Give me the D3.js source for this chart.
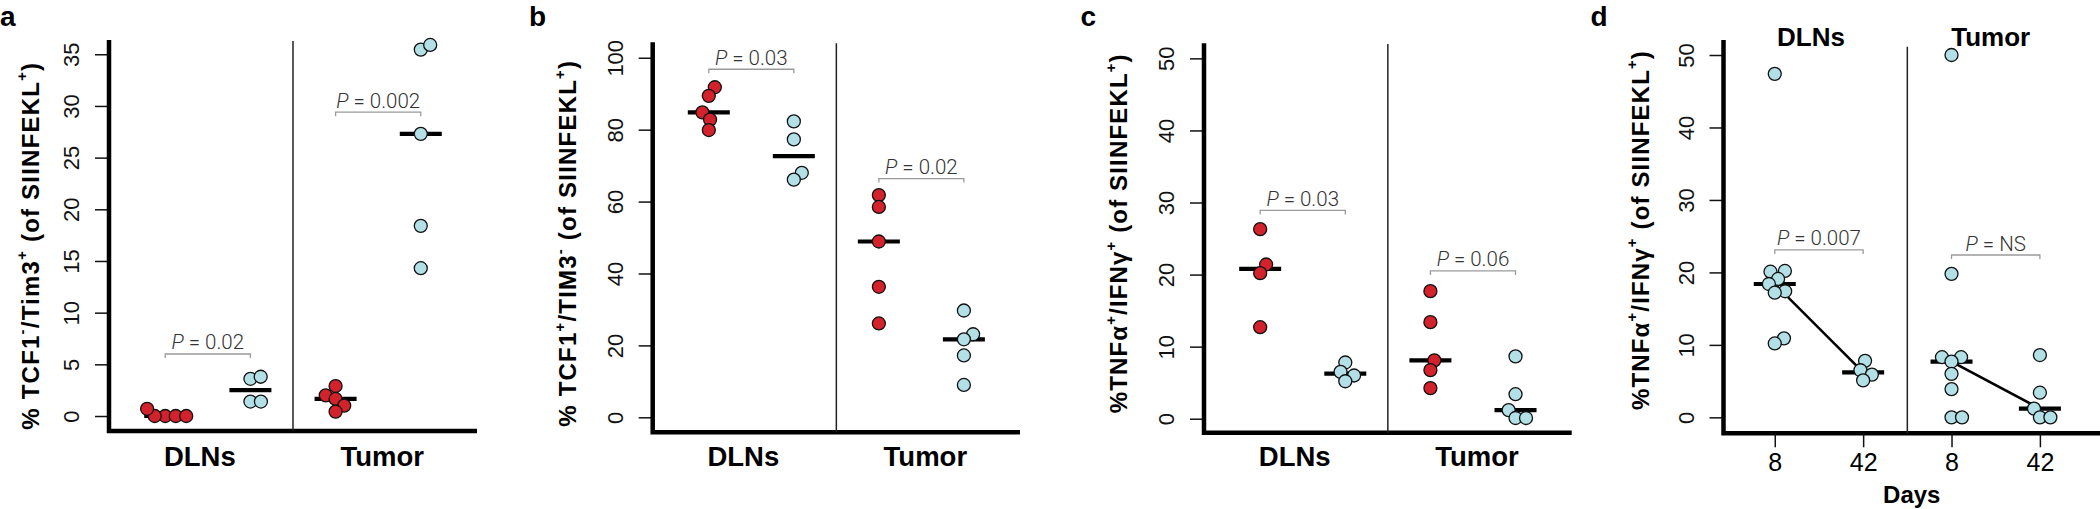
<!DOCTYPE html>
<html><head><meta charset="utf-8">
<script src="https://cdn.jsdelivr.net/npm/d3@7"></script>
<style>body{margin:0;background:#fff;overflow:hidden}</style>
</head><body>
<svg id="chart" width="2100" height="509"></svg>
<script>
// ---------------- DATA ----------------
const sites = ["DLNs", "Tumor"];
const dayLabels = ["8", "42", "8", "42"];

// panel a : % TCF1-/Tim3+ (of SIINFEKL+)
const aTicks = [0, 5, 10, 15, 20, 25, 30, 35];
const aDLNsRed = [0, 0, 0, 0, 0.7];
const aDLNsBlue = [3.6, 3.8, 1.4, 1.4];
const aTumorRed = [2.9, 2.0, 1.65, 1.0, 0.42];
const aTumorBlue = [35.45, 35.9, 27.3, 18.4, 14.3];
const aPvalues = ["0.02", "0.002"];
const aBracketY = [6.0, 29.4];

// panel b : % TCF1+/TIM3- (of SIINFEKL+)
const bTicks = [0, 20, 40, 60, 80, 100];
const bDLNsRed = [91.8, 89.4, 84.8, 82.8, 79.9];
const bDLNsBlue = [82.3, 77.3, 68.0, 66.1];
const bTumorRed = [61.8, 58.5, 48.9, 36.3, 26.1];
const bTumorBlue = [29.7, 23.1, 21.7, 17.2, 9.0];
const bPvalues = ["0.03", "0.02"];
const bBracketY = [96.8, 66.4];

// panel c : %TNFa+/IFNg+ (of SIINFEKL+)
const cTicks = [0, 10, 20, 30, 40, 50];
const cDLNsRed = [26.3, 21.4, 20.2, 12.7];
const cDLNsBlue = [7.8, 6.5, 6.0, 5.2];
const cTumorRed = [17.7, 13.4, 8.1, 6.75, 4.25];
const cTumorBlue = [8.65, 3.4, 1.2, 0.1, 0.1];
const cPvalues = ["0.03", "0.06"];
const cBracketY = [28.9, 20.5];

// panel d : %TNFa+/IFNg+ (of SIINFEKL+) by day
const dTicks = [0, 10, 20, 30, 40, 50];
const dDLNsDay8 = [47.4, 20.2, 20.1, 19.1, 18.4, 17.4, 17.2, 10.9, 10.2];
const dDLNsDay42 = [7.8, 6.5, 5.9, 5.1];
const dTumorDay8 = [50.0, 19.8, 8.3, 8.3, 7.7, 6.0, 3.9, 0, 0];
const dTumorDay42 = [8.6, 3.4, 1.2, 0, 0];
const dPvalues = ["0.007", "NS"];
const dBracketY = [23.1, 22.4];

// ---------------- STYLE ----------------
const RED = "#d3222b", BLUE = "#b2e0e6";
const FONT = "'Liberation Sans', Arial, Helvetica, sans-serif";
const LIGHT = "Roboto, 'Liberation Sans', Arial, sans-serif";

const titleA = [["% TCF1",0],["-",1],["/Tim3",0],["+",1],[" (of SIINFEKL",0],["+",1],[")",0]];
const titleB = [["% TCF1",0],["+",1],["/TIM3",0],["-",1],[" (of SIINFEKL",0],["+",1],[")",0]];
const titleC = [["%TNFα",0],["+",1],["/IFNγ",0],["+",1],[" (of SIINFEKL",0],["+",1],[")",0]];

const panels = [
  {letter:"a", letterX:0, axisX:109, rightX:477, top:40, bottom:431, divTop:41,
   xDomain:[0.34,4.66], yDomain:[-1.45,36.38], ticks:aTicks,
   title:titleA, titleX:30, titleY:245.7, titleLen:368,
   groups:[[aDLNsRed,RED],[aDLNsBlue,BLUE],[aTumorRed,RED],[aTumorBlue,BLUE]],
   pvals:aPvalues, brY:aBracketY, days:false},
  {letter:"b", letterX:529, axisX:652.7, rightX:1020, top:42.3, bottom:432.3, divTop:43.3,
   xDomain:[0.34,4.66], yDomain:[-4.17,104.3], ticks:bTicks,
   title:titleB, titleX:567.3, titleY:243.3, titleLen:367,
   groups:[[bDLNsRed,RED],[bDLNsBlue,BLUE],[bTumorRed,RED],[bTumorBlue,BLUE]],
   pvals:bPvalues, brY:bBracketY, days:false},
  {letter:"c", letterX:1080.5, axisX:1204, rightX:1571.7, top:43.3, bottom:432.7, divTop:44,
   xDomain:[0.34,4.66], yDomain:[-1.94,52.09], ticks:cTicks,
   title:titleC, titleX:1118.3, titleY:233.3, titleLen:360,
   groups:[[cDLNsRed,RED],[cDLNsBlue,BLUE],[cTumorRed,RED],[cTumorBlue,BLUE]],
   pvals:cPvalues, brY:cBracketY, days:false},
  {letter:"d", letterX:1590.5, axisX:1723.5, rightX:2100, top:40, bottom:433.3, divTop:46.7,
   xDomain:[0.42,4.68], yDomain:[-2.2,52.07], ticks:dTicks,
   title:titleC, titleX:1640, titleY:230, titleLen:360,
   groups:[[dDLNsDay8,BLUE],[dDLNsDay42,BLUE],[dTumorDay8,BLUE],[dTumorDay42,BLUE]],
   pvals:dPvalues, brY:dBracketY, days:true}
];

const svg = d3.select("#chart");
const R = 6.5, SW = 10.5;

function swarm(vals, y, d) {
  const order = vals.map((v, i) => i).sort((i, j) => vals[i] - vals[j]);
  const placed = [], out = new Array(vals.length);
  order.forEach(i => {
    const yy = y(vals[i]);
    const cands = [0];
    placed.forEach(p => {
      const dy = Math.abs(p.y - yy);
      if (dy < d) { const dx = Math.sqrt(d * d - dy * dy); cands.push(p.x + dx, p.x - dx); }
    });
    const ok = cands.filter(c => placed.every(p => (p.x - c) ** 2 + (p.y - yy) ** 2 >= d * d - 1e-6));
    ok.sort((a, b) => (Math.abs(Math.abs(a) - Math.abs(b)) < 1e-6 ? b - a : Math.abs(a) - Math.abs(b)));
    placed.push({x: ok[0], y: yy});
    out[i] = ok[0];
  });
  return out;
}

panels.forEach(P => {
  const g = svg.append("g");
  const x = d3.scaleLinear().domain(P.xDomain).range([P.axisX, P.rightX]);
  const y = d3.scaleLinear().domain(P.yDomain).range([P.bottom, P.top]);

  // panel letter
  g.append("text").attr("x", P.letterX).attr("y", 26).text(P.letter)
    .attr("font-family", FONT).attr("font-weight", "bold").attr("font-size", 28).attr("fill", "#000");

  // y axis ticks + labels via d3.axisLeft
  const ax = g.append("g").attr("transform", `translate(${P.axisX},0)`)
    .call(d3.axisLeft(y).tickValues(P.ticks).tickSize(14).tickPadding(0));
  ax.select(".domain").remove();
  ax.selectAll(".tick line").attr("stroke", "#111").attr("stroke-width", 1.5);
  ax.selectAll(".tick text")
    .attr("font-family", FONT).attr("font-size", 22).attr("fill", "#111")
    .attr("text-anchor", "middle").attr("dy", null).attr("x", null)
    .attr("transform", "translate(-37.5,0) rotate(-90)").attr("dy", "0.36em");

  // y axis title
  const t = g.append("text")
    .attr("transform", `translate(${P.titleX},${P.titleY}) rotate(-90)`)
    .attr("text-anchor", "middle").attr("dy", "0.36em")
    .attr("font-family", FONT).attr("font-weight", "bold").attr("font-size", 24).attr("fill", "#000");
  P.title.forEach(([s, sup], i) => {
    const ts = t.append("tspan").text(s);
    if (sup) ts.attr("font-size", "0.62em").attr("dy", "-0.75em");
    else if (i > 0 && P.title[i - 1][1]) ts.attr("dy", "0.465em");
  });
  const len = t.node().getComputedTextLength();
  const nch = P.title.map(d => d[0]).join("").length;
  if (len > P.titleLen) t.attr("font-size", 24 * P.titleLen / len);
  else t.attr("letter-spacing", (P.titleLen - len) / nch);

  // axis frame (L shape)
  g.append("path")
    .attr("d", `M${P.axisX},${P.top} L${P.axisX},${P.bottom} L${P.rightX},${P.bottom}`)
    .attr("fill", "none").attr("stroke", "#000").attr("stroke-width", 4.5).attr("stroke-linejoin", "miter");
  // divider between sites
  g.append("line").attr("x1", x(2.5)).attr("x2", x(2.5)).attr("y1", P.divTop).attr("y2", P.bottom)
    .attr("stroke", "#222").attr("stroke-width", 1.5);

  // site labels
  if (!P.days) {
    g.selectAll(".site").data(sites).enter().append("text")
      .attr("x", (d, i) => x(1.5 + 2 * i) + (i === 0 ? -8 : 4)).attr("y", 466)
      .attr("text-anchor", "middle").text(d => d)
      .attr("font-family", FONT).attr("font-weight", "bold").attr("font-size", 27.5).attr("fill", "#000");
  } else {
    g.selectAll(".site").data(sites).enter().append("text")
      .attr("x", (d, i) => x(1.5 + 2 * i) + (i === 0 ? -8 : -5)).attr("y", 46)
      .attr("text-anchor", "middle").text(d => d)
      .attr("font-family", FONT).attr("font-weight", "bold").attr("font-size", 26).attr("fill", "#000");
    const xa = g.append("g").attr("transform", `translate(0,${P.bottom})`)
      .call(d3.axisBottom(x).tickValues([1, 2, 3, 4]).tickFormat((d, i) => dayLabels[i]).tickSize(14).tickPadding(6));
    xa.select(".domain").remove();
    xa.selectAll(".tick line").attr("stroke", "#111").attr("stroke-width", 1.5);
    xa.selectAll(".tick text").attr("font-family", FONT).attr("font-size", 25).attr("fill", "#000");
    g.append("text").attr("x", (P.axisX + P.rightX) / 2).attr("y", 503).attr("text-anchor", "middle")
      .text("Days").attr("font-family", FONT).attr("font-weight", "bold").attr("font-size", 24).attr("fill", "#000");
  }

  // p-value brackets
  P.pvals.forEach((pv, k) => {
    const x1 = x(1 + 2 * k), x2 = x(2 + 2 * k), yy = y(P.brY[k]);
    g.append("path").attr("d", `M${x1},${yy + 4} L${x1},${yy} L${x2},${yy} L${x2},${yy + 4}`)
      .attr("fill", "none").attr("stroke", "#9a9a9a").attr("stroke-width", 1.3);
    const tt = g.append("text").attr("x", (x1 + x2) / 2).attr("y", yy - 4.5).attr("text-anchor", "middle")
      .attr("font-family", LIGHT).attr("font-weight", 300).attr("font-size", 20.5).attr("fill", "#333");
    tt.append("tspan").attr("font-style", "italic").text("P");
    tt.append("tspan").text(" = " + pv);
  });

  // medians
  const meds = P.groups.map(([vals]) => d3.median(vals));
  g.selectAll(".med").data(meds).enter().append("line")
    .attr("x1", (d, i) => x(i + 1) - 21).attr("x2", (d, i) => x(i + 1) + 21)
    .attr("y1", d => y(d)).attr("y2", d => y(d))
    .attr("stroke", "#000").attr("stroke-width", 4.2);
  if (P.days) {
    [0, 2].forEach(k => {
      g.append("line").attr("x1", x(k + 1)).attr("y1", y(meds[k]))
        .attr("x2", x(k + 2)).attr("y2", y(meds[k + 1]))
        .attr("stroke", "#000").attr("stroke-width", 2.6);
    });
  }

  // points
  P.groups.forEach(([vals, col], gi) => {
    const off = swarm(vals, y, SW);
    g.selectAll(null).data(vals).enter().append("circle")
      .attr("cx", (d, i) => x(gi + 1) + off[i]).attr("cy", d => y(d)).attr("r", R)
      .attr("fill", col).attr("stroke", "#111").attr("stroke-width", 1.3);
  });
});
</script>
</body></html>
